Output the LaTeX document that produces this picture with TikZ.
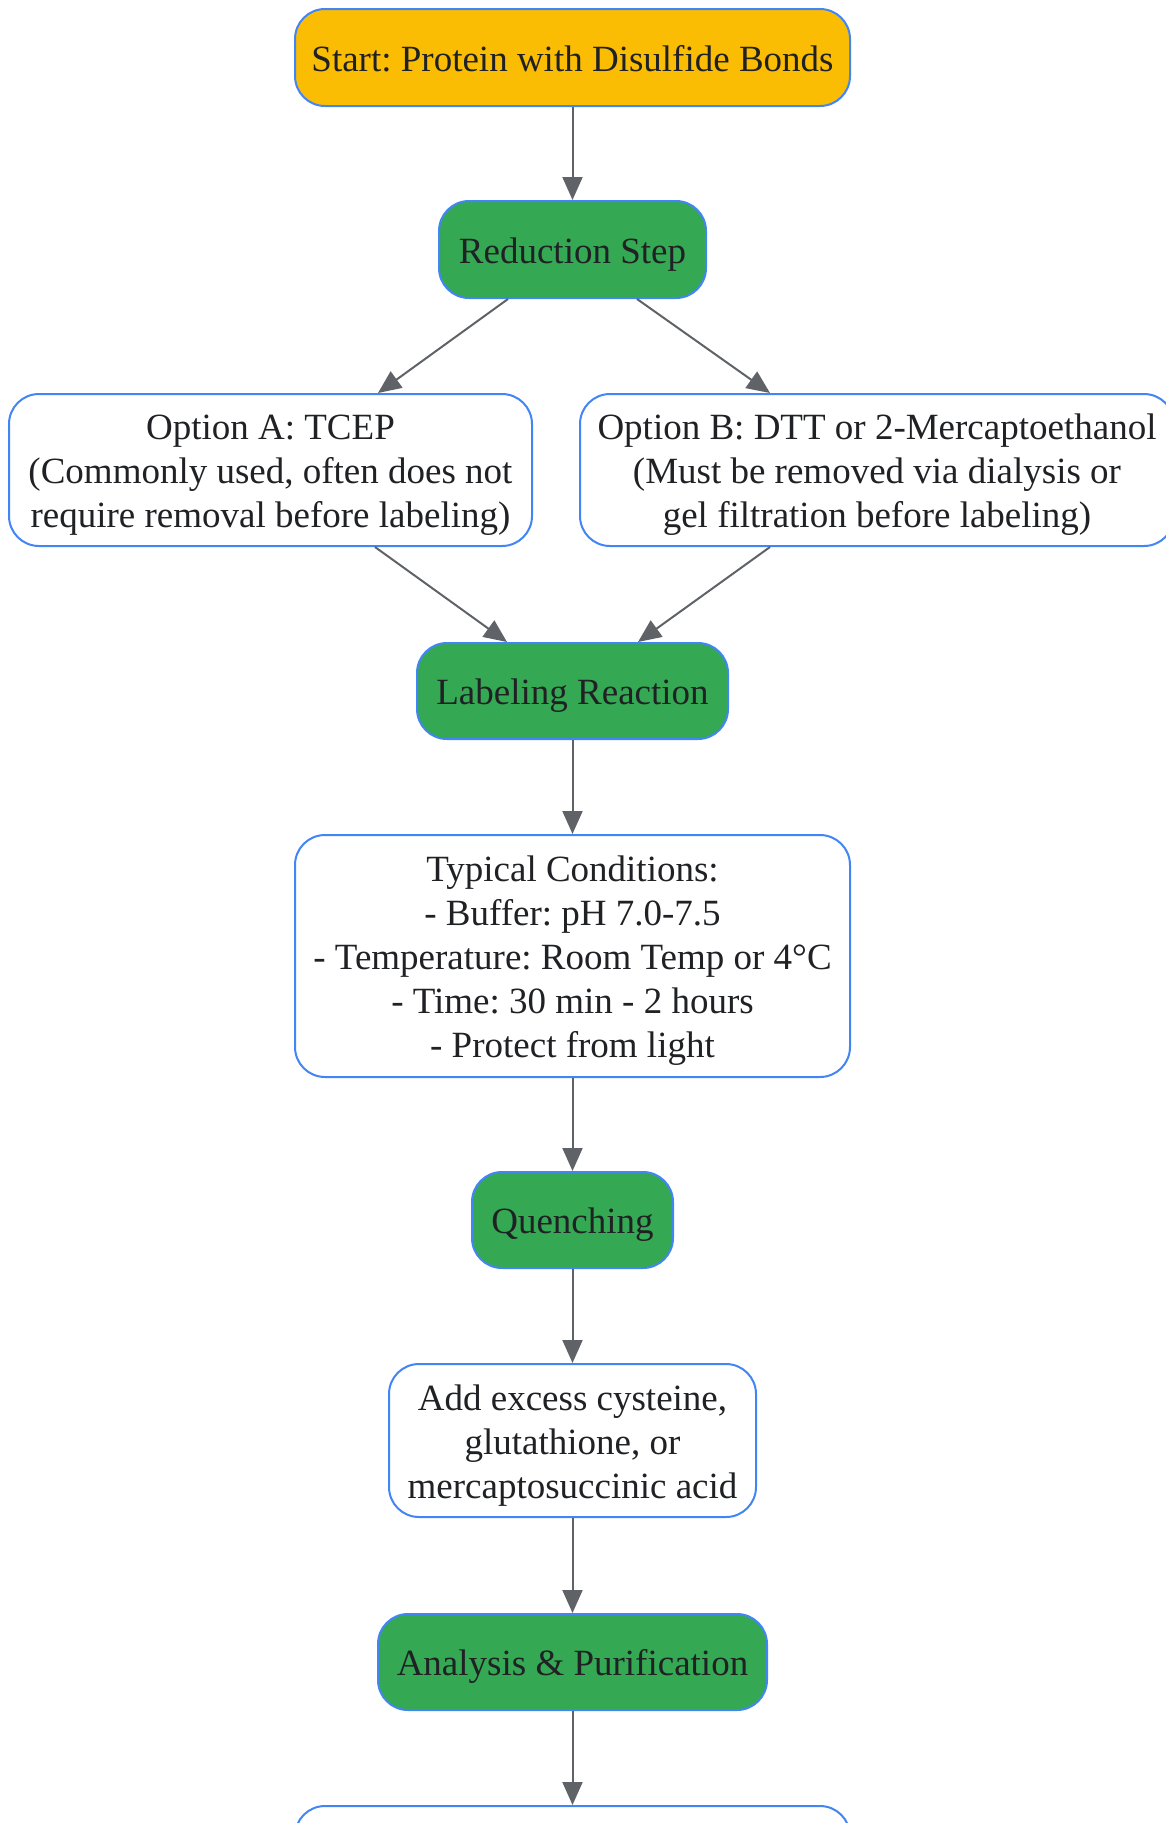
\documentclass[tikz,border=0pt]{standalone}
\usepackage{fontspec}
\setmainfont{Liberation Serif}
\usetikzlibrary{arrows.meta}
\definecolor{gyellow}{HTML}{FBBC04}
\definecolor{ggreen}{HTML}{34A853}
\definecolor{gblue}{HTML}{4285F4}
\definecolor{ggray}{HTML}{5F6368}
\definecolor{gtext}{HTML}{202124}
\newcommand{\topup}{\rule{0pt}{36pt}}
\newcommand{\botdown}{\rule[-9pt]{0pt}{9pt}}
\frenchspacing
\begin{document}
\begin{tikzpicture}[x=1pt,y=-1pt,
  box/.style={draw=gblue, line width=2pt, rounded corners=30pt, align=center,
    inner sep=0pt, text=gtext, font=\fontsize{37}{44}\selectfont\frenchspacing},
  startbox/.style={box, fill=gyellow},
  stepbox/.style={box, fill=ggreen},
  infobox/.style={box, fill=white},
  arr/.style={draw=ggray, line width=2pt, -{Triangle[length=23pt,width=20pt]}}]
\useasboundingbox (0,0) rectangle (1166,1823);
\node[startbox, minimum width=555pt, minimum height=97pt] (start) at (572.5,57.5) {\topup Start: Protein with Disulfide Bonds\botdown};
\node[stepbox, minimum width=267pt, minimum height=97pt] (reduce) at (572.5,249.5) {\topup Reduction Step\botdown};
\node[infobox, minimum width=523pt, minimum height=152pt] (optA) at (270.5,470) {\topup Option A: TCEP\\(Commonly used, often does not\\require removal before labeling)\botdown};
\node[infobox, minimum width=594pt, minimum height=152pt] (optB) at (877,470) {\topup Option B: DTT or 2-Mercaptoethanol\\(Must be removed via dialysis or\\gel filtration before labeling)\botdown};
\node[stepbox, minimum width=311pt, minimum height=96pt] (label) at (572.5,691) {\topup Labeling Reaction\botdown};
\node[infobox, minimum width=555pt, minimum height=242pt] (cond) at (572.5,956) {\topup Typical Conditions:\\- Buffer: pH 7.0-7.5\\- Temperature: Room Temp or 4°C\\- Time: 30 min - 2 hours\\- Protect from light\botdown};
\node[stepbox, minimum width=201pt, minimum height=96pt] (quench) at (572.5,1220) {\topup Quenching\botdown};
\node[infobox, minimum width=367pt, minimum height=153pt] (add) at (572.5,1440.5) {\topup Add excess cysteine,\\glutathione, or\\mercaptosuccinic acid\botdown};
\node[stepbox, minimum width=389pt, minimum height=96pt] (anal) at (572.5,1662) {\topup Analysis \& Purification\botdown};
\node[infobox, minimum width=555pt, minimum height=97pt] (last) at (572.5,1854.5) {};
\draw[arr] (start) -- (reduce);
\draw[arr] ([xshift=-64.5pt]reduce.south) -- ([xshift=107.5pt]optA.north);
\draw[arr] ([xshift=64.5pt]reduce.south) -- ([xshift=-107pt]optB.north);
\draw[arr] ([xshift=104.5pt]optA.south) -- ([xshift=-65.5pt]label.north);
\draw[arr] ([xshift=-107pt]optB.south) -- ([xshift=65.5pt]label.north);
\draw[arr] (label) -- (cond);
\draw[arr] (cond) -- (quench);
\draw[arr] (quench) -- (add);
\draw[arr] (add) -- (anal);
\draw[arr] (anal) -- (last);
\end{tikzpicture}
\end{document}
